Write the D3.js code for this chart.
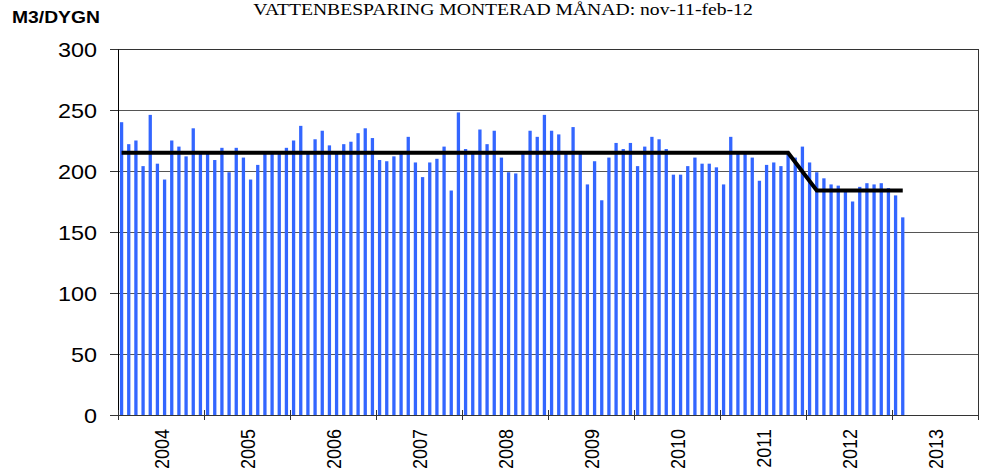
<!DOCTYPE html>
<html>
<head>
<meta charset="utf-8">
<script src="https://cdn.jsdelivr.net/npm/d3@7"></script>
<style>
  body { margin: 0; background: #fff; }
  svg { display: block; }
</style>
</head>
<body>
<svg></svg>
<script>
const width = 983
const height = 472
const plot = { left: 118, right: 978, top: 49, bottom: 415 }
const stretch = 1.17

const title = 'VATTENBESPARING MONTERAD MÅNAD: nov-11-feb-12'
const yLabel = 'M3/DYGN'

const years = ['2004', '2005', '2006', '2007', '2008', '2009', '2010', '2011', '2012', '2013']
const months = years.flatMap(y => d3.range(1, 13).map(m => `${y}-${m}`))
const yTicks = [0, 50, 100, 150, 200, 250, 300]

// monthly consumption, m3 per day (jan 2004 - feb 2013)
const usage = [
  240, 222, 225, 204, 246, 206, 193, 225, 220, 212, 235, 215,
  215, 209, 219, 199, 219, 211, 193, 205, 215, 215, 215, 219,
  225, 237, 215, 226, 233, 221, 215, 222, 224, 231, 235, 227,
  209, 208, 212, 215, 228, 207, 195, 207, 210, 220, 184, 248,
  218, 215, 234, 222, 233, 211, 199, 198, 215, 233, 228, 246,
  233, 230, 215, 236, 215, 189, 208, 176, 211, 223, 218, 223,
  204, 220, 228, 226, 218, 197, 197, 204, 211, 206, 206, 203,
  189, 228, 215, 215, 211, 192, 205, 207, 204, 215, 211, 220,
  207, 199, 194, 189, 188, 185, 175, 187, 190, 189, 190, 186,
  180, 162
]

// average level before and after the installation
const levelMonths = ['2004-1', '2011-10', '2012-2', '2013-2']
const levelValues = [215, 215, 184, 184]

const svg = d3.select('svg')
  .attr('width', width)
  .attr('height', height)
  .style('font-family', 'Liberation Sans, Arial, sans-serif')

const x = d3.scaleBand()
  .domain(months)
  .range([plot.left, plot.right])
  .paddingInner(0.54)
  .paddingOuter(0.27)

const xYear = d3.scaleBand()
  .domain(years)
  .range([plot.left, plot.right])

const xEdge = d3.scaleLinear()
  .domain([0, months.length])
  .range([plot.left, plot.right])

const y = d3.scaleLinear()
  .domain([0, 300])
  .range([plot.bottom, plot.top])

/** gridlines */
svg.append('g')
  .attr('transform', `translate(${plot.left},0)`)
  .call(d3.axisLeft(y).tickValues(yTicks.slice(1, -1)).tickSize(-(plot.right - plot.left)).tickFormat(''))
  .call(g => g.select('.domain').remove())
  .call(g => g.selectAll('.tick line').attr('stroke', '#555').attr('shape-rendering', 'crispEdges'))

/** bars */
svg.append('g')
  .selectAll('rect')
  .data(usage)
  .join('rect')
  .attr('x', (d, i) => x(months[i]))
  .attr('y', d => y(d))
  .attr('width', x.bandwidth())
  .attr('height', d => y(0) - y(d))
  .attr('fill', '#3366ff')

/** level line */
const level = levelMonths.map((m, i) => ({ month: m, value: levelValues[i] }))
svg.append('path')
  .datum(level)
  .attr('fill', 'none')
  .attr('stroke', '#000')
  .attr('stroke-width', 4)
  .attr('d', d3.line()
    .x(d => x(d.month) + x.bandwidth() / 2)
    .y(d => y(d.value)))

/** plot border (top + right) */
svg.append('path')
  .attr('d', `M${plot.left},${plot.top}H${plot.right}V${plot.bottom}`)
  .attr('fill', 'none')
  .attr('stroke', '#333')
  .attr('shape-rendering', 'crispEdges')

/** y axis */
svg.append('g')
  .attr('transform', `translate(${plot.left},0)`)
  .call(d3.axisLeft(y).tickValues(yTicks).tickSize(8).tickSizeOuter(0))
  .call(g => g.select('.domain').attr('stroke', '#000'))
  .call(g => g.selectAll('.tick line').attr('stroke', '#333').attr('shape-rendering', 'crispEdges'))
  .call(g => g.selectAll('.tick text')
    .attr('x', -21 / stretch)
    .attr('dy', '0.36em')
    .attr('transform', `scale(${stretch},1)`)
    .attr('fill', '#000')
    .style('font-size', '20px')
    .style('font-family', 'Liberation Sans, Arial, sans-serif'))

/** x axis: year boundaries */
svg.append('g')
  .attr('transform', `translate(0,${plot.bottom})`)
  .call(d3.axisBottom(xEdge).tickValues(d3.range(0, months.length + 1, 12)).tickSize(5).tickSizeOuter(0).tickFormat(''))
  .call(g => g.select('.domain').attr('stroke', '#333'))
  .call(g => g.selectAll('.tick line').attr('y1', -5).attr('stroke', '#333'))

/** x axis: year labels */
svg.append('g')
  .attr('transform', `translate(0,${plot.bottom})`)
  .call(d3.axisBottom(xYear).tickSize(0))
  .call(g => g.select('.domain').remove())
  .call(g => g.selectAll('.tick text')
    .attr('text-anchor', 'end')
    .attr('x', -14)
    .attr('y', 0)
    .attr('dy', '0.36em')
    .attr('transform', `scale(${stretch},1) rotate(-90)`)
    .attr('fill', '#000')
    .style('font-size', '18px')
    .style('font-family', 'Liberation Sans, Arial, sans-serif'))

/** titles */
svg.append('text')
  .attr('transform', `translate(503,15) scale(${stretch},1)`)
  .attr('text-anchor', 'middle')
  .style('font-family', 'Liberation Serif, Times New Roman, serif')
  .style('font-size', '16.8px')
  .text(title)

svg.append('text')
  .attr('transform', `translate(12,23) scale(${stretch},1)`)
  .style('font-weight', 'bold')
  .style('font-size', '16.5px')
  .text(yLabel)
</script>
</body>
</html>
